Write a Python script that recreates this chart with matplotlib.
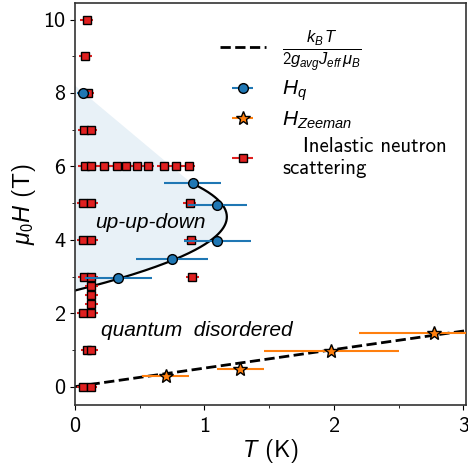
import numpy as np
import matplotlib.pyplot as plt
from matplotlib.ticker import MultipleLocator

plt.rcParams['font.family'] = ['cmss10', 'DejaVu Sans']
plt.rcParams['mathtext.fontset'] = 'custom'
plt.rcParams['mathtext.rm'] = 'cmss10'
plt.rcParams['mathtext.it'] = 'Liberation Sans:italic'
plt.rcParams['axes.unicode_minus'] = False

# inelastic neutron scattering points
ins_T = [0.09, 0.08, 0.10, 0.07, 0.12,
         0.075, 0.124, 0.226, 0.322, 0.394, 0.479, 0.564, 0.687, 0.782, 0.880,
         0.065, 0.124, 0.886, 0.065, 0.124, 0.893, 0.07, 0.124, 0.906,
         0.126, 0.126, 0.126, 0.065, 0.124, 0.095, 0.126, 0.065, 0.12]
ins_H = [10, 9, 8, 7, 7,
         6, 6, 6, 6, 6, 6, 6, 6, 6, 6,
         5, 5, 5, 4, 4, 4, 3, 3, 3,
         2.75, 2.5, 2.25, 2, 2, 1, 1, 0, 0]
ins_dT = [0.05] * len(ins_T)

# critical field H_q
hq_T = [0.065, 0.911, 1.10, 1.10, 0.749, 0.335]
hq_H = [8.0, 5.55, 4.96, 3.97, 3.47, 2.97]
hq_dT = [0.05, 0.22, 0.225, 0.26, 0.28, 0.26]

# Zeeman field
hz_T = [0.70, 1.276, 1.98, 2.77]
hz_H = [0.28, 0.48, 0.98, 1.47]
hz_dT = [0.18, 0.18, 0.52, 0.58]

slope = 0.505  # kB / (2 g Jeff muB) in T/K

fig = plt.figure(figsize=(4.68, 4.74), dpi=100)
ax = fig.add_axes([75 / 468, (474 - 405) / 474, 391 / 468, 402 / 474])

# phase boundary: cubic fit of T(H) through H_q and the T=0 intercept
fit_H = [2.6] + hq_H[1:]
fit_T = [0.0] + hq_T[1:]
coef = np.polyfit(fit_H, fit_T, 3)
Hb = np.linspace(2.6, 5.55, 200)
Tb = np.polyval(coef, Hb)

# up-up-down region
poly_T = np.concatenate([[0.0], Tb, [0.0]])
poly_H = np.concatenate([[2.6], Hb, [8.2]])
ax.fill(poly_T, poly_H, color='tab:blue', alpha=0.1, lw=0, zorder=0)
ax.plot(Tb, Hb, color='k', lw=1.6, zorder=2)

Tl = np.linspace(0, 3.1, 10)
ax.plot(Tl, slope * Tl, 'k--', lw=2, zorder=2,
        label=r'$\frac{k_B\,T}{2g_{avg}J_{eff}\,\mu_B}$')

ax.errorbar(hq_T, hq_H, xerr=hq_dT, fmt='o', color='tab:blue', mec='k',
            mew=1, ms=7, elinewidth=1.5, zorder=4, label=r'$H_q$')
ax.errorbar(hz_T, hz_H, xerr=hz_dT, fmt='*', color='tab:orange', mec='k',
            mew=1, ms=10, elinewidth=1.5, zorder=4, label=r'$H_{Zeeman}$')
ax.errorbar(ins_T, ins_H, xerr=ins_dT, fmt='s', color='#e02020', mec='k',
            mew=1, ms=5.5, elinewidth=1.5, ecolor='#e02020', zorder=3,
            label='   Inelastic neutron\nscattering')

ax.text(0.58, 4.47, 'up-up-down', fontsize=15, style='italic',
        family='Liberation Sans', ha='center', va='center')
ax.text(0.94, 1.53, 'quantum  disordered', fontsize=15, style='italic',
        family='Liberation Sans', ha='center', va='center')

ax.set_xlim(0, 3.02)
ax.set_ylim(-0.5, 10.45)
ax.xaxis.set_major_locator(MultipleLocator(1))
ax.xaxis.set_minor_locator(MultipleLocator(0.5))
ax.yaxis.set_major_locator(MultipleLocator(2))
ax.yaxis.set_minor_locator(MultipleLocator(1))
ax.tick_params(labelsize=16)
ax.tick_params(axis='x', pad=5)
ax.set_xlabel(r'$T$ (K)', fontsize=17, labelpad=1)
ax.set_ylabel(r'$\mu_0H$ (T)', fontsize=17, labelpad=4)
for s in ax.spines.values():
    s.set_color('#333333')
    s.set_linewidth(1.2)

leg = ax.legend(loc='upper right', bbox_to_anchor=(1.0, 0.985), frameon=False,
                fontsize=15, labelspacing=0.3, handlelength=2.2,
                borderaxespad=0.5)
leg.get_texts()[0].set_fontsize(17)

fig.savefig('out.png', dpi=100)
